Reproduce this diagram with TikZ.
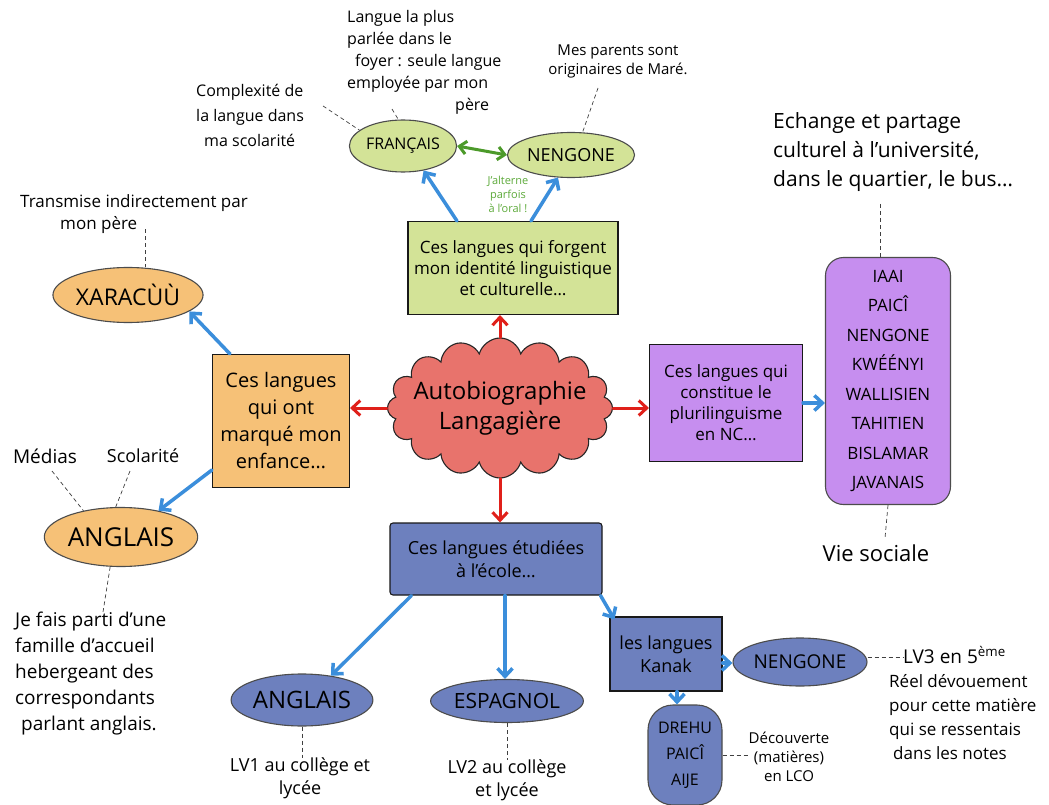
\documentclass[tikz,border=0pt]{standalone}
\usepackage{fontspec}
\setmainfont{Open Sans}
\usetikzlibrary{shapes.geometric,shapes.symbols,arrows.meta}
\definecolor{cvert}{HTML}{D3E397}
\definecolor{corange}{HTML}{F6C177}
\definecolor{crouge}{HTML}{E8736C}
\definecolor{cviolet}{HTML}{C68EEF}
\definecolor{cbleu}{HTML}{6D80BE}
\definecolor{ableu}{HTML}{3B8EDB}
\definecolor{arouge}{HTML}{E0201A}
\definecolor{avert}{HTML}{4C9A2A}
\definecolor{tvert}{HTML}{5DAA3A}
\tikzset{
  fs/.style={font=\fontsize{#1}{\the\numexpr#1*5/4\relax}\selectfont},
  boxnode/.style={draw=black!90, line width=1.1pt, align=center, inner sep=3pt},
  oval/.style={ellipse, draw=black!70, line width=1.1pt, align=center, inner sep=1pt},
  bluearrow/.style={-{Straight Barb[length=8pt,width=15pt]}, line width=3.5pt, draw=ableu, line cap=round},
  redarrow/.style={-{Straight Barb[length=8pt,width=15pt]}, line width=3pt, draw=arouge, line cap=round},
  greenarrow/.style={{Straight Barb[length=7pt,width=13pt]}-{Straight Barb[length=7pt,width=13pt]}, line width=3pt, draw=avert},
  link/.style={dash pattern=on 4pt off 3pt, line width=0.7pt, draw=black!75},
  note/.style={align=left, inner sep=0pt}
}
\begin{document}
\begin{tikzpicture}[x=1pt,y=-1pt]
\useasboundingbox[fill=white] (0,0) rectangle (1049,805);

% central cloud
\node[cloud, cloud puffs=16, cloud ignores aspect, fill=crouge, draw=black!85, line width=1.1pt,
      minimum width=225pt, minimum height=140pt, inner sep=0pt]
      (cloud) at (500,408) {};
\node[align=center, fs=24, inner sep=0pt] (cloudtxt) at (cloud.center) {Autobiographie\\Langagière};

% green group
\node[boxnode, fill=cvert, minimum width=210pt, minimum height=93pt, fs=17]
      (gbox) at (513,268) {Ces langues qui forgent\\mon identité linguistique\\et culturelle…};
\node[oval, fill=cvert, minimum width=90pt, minimum height=52pt, fs=16] (fr) at (403,146) {FRANÇAIS};
\node[oval, fill=cvert, minimum width=112pt, minimum height=45pt, fs=18] (nen1) at (571,155) {NENGONE};
\node[align=center, text=tvert, fs=11, inner sep=0pt] (alt) at (508,194) {J'alterne\\parfois\\à l'oral !};
\node[note, font=\fontsize{16}{22}\selectfont, anchor=north west] (lg) at (347,10)
  {Langue la plus\\parlée dans le\\\hspace*{8pt}foyer : seule langue\\employée par mon\\\hspace*{108pt}père};
\node[note, font=\fontsize{16}{25}\selectfont, anchor=north west] (cx) at (196,84) {Complexité de\\la langue dans\\\hspace*{8pt}ma scolarité};
\node[align=center, fs=15, inner sep=0pt] (mp) at (618,61) {Mes parents sont\\originaires de Maré.};
\coordinate (lgtip) at (392,109);
\coordinate (cxtip) at (323,106);
\coordinate (mptip) at (598,88);

% orange group
\node[boxnode, fill=corange, minimum width=137pt, minimum height=133pt, font=\fontsize{20}{27}\selectfont]
      (obox) at (281,421) {Ces langues\\qui ont\\marqué mon\\enfance…};
\node[oval, fill=corange, minimum width=140pt, minimum height=55pt, fs=23] (xar) at (128,295) {XARACÙÙ};
\node[note, anchor=north west, font=\fontsize{17}{22}\selectfont] (tr) at (20,194) {Transmise indirectement par\\\hspace*{40pt}mon père};
\coordinate (trtip) at (145,229);
\node[oval, fill=corange, minimum width=125pt, minimum height=59pt, fs=26] (oang) at (121,537) {ANGLAIS};
\node[fs=19, inner sep=0pt] (med) at (45,456) {Médias};
\node[fs=18, inner sep=0pt] (sco) at (143,456) {Scolarité};
\node[note, anchor=north west, font=\fontsize{19}{26}\selectfont] (je) at (15,612)
  {Je fais parti d'une\\famille d'accueil\\hebergeant des\\correspondants\\\hspace*{6pt}parlant anglais.};
\coordinate (medtip) at (52,471);
\coordinate (scotip) at (130,471);
\coordinate (jetip) at (103,612);

% purple group
\node[boxnode, fill=cviolet, minimum width=153pt, minimum height=117pt, fs=17]
      (pbox) at (726,403) {Ces langues qui\\constitue le\\plurilinguisme\\en NC…};
\node[draw=black!70, line width=1.1pt, fill=cviolet, rounded corners=18pt,
      minimum width=125pt, minimum height=247pt, align=center, inner sep=0pt,
      font=\fontsize{17}{29.5}\selectfont] (list) at (888,381)
      {IAAI\\PAICÎ\\NENGONE\\KWÉÉNYI\\WALLISIEN\\TAHITIEN\\BISLAMAR\\JAVANAIS};
\node[note, anchor=north west, font=\fontsize{21}{29}\selectfont] (ech) at (773,112)
  {Echange et partage\\culturel à l'université,\\dans le quartier, le bus…};
\coordinate (echtip) at (880,204);
\node[fs=22, inner sep=0pt] (vie) at (876,553) {Vie sociale};
\coordinate (vietip) at (885,538);

% blue group
\node[boxnode, fill=cbleu, minimum width=212pt, minimum height=72pt, fs=18, rounded corners=3pt]
      (bbox) at (496,559) {Ces langues étudiées\\à l'école…};
\node[oval, fill=cbleu, minimum width=120pt, minimum height=52pt, fs=24] (bang) at (302,700) {ANGLAIS};
\node[oval, fill=cbleu, minimum width=130pt, minimum height=43pt, fs=21] (esp) at (507,701) {ESPAGNOL};
\node[boxnode, fill=cbleu, minimum width=112pt, minimum height=74pt, fs=18] (kanak) at (666,654) {les langues\\Kanak};
\node[oval, fill=cbleu, minimum width=122pt, minimum height=48pt, fs=19] (nen2) at (800,662) {NENGONE};
\node[draw=black!70, line width=1.1pt, fill=cbleu, rounded corners=25pt, minimum width=74pt,
      minimum height=100pt, align=center, inner sep=0pt, font=\fontsize{16}{26}\selectfont]
      (drehu) at (685,755) {DREHU\\PAICÎ\\AIJE};
\node[align=center, fs=15, inner sep=0pt] (dec) at (789,757) {Découverte\\(matières)\\en LCO};
\node[fs=19, inner sep=0pt, anchor=west] (lv3) at (903,655) {LV3 en 5\textsuperscript{ème}};
\node[note, anchor=north west, font=\fontsize{17}{24}\selectfont] (reel) at (889,674)
  {Réel dévouement\\pour cette matière\\qui se ressentais\\\hspace*{4pt}dans les notes};
\node[align=center, fs=18, inner sep=0pt, anchor=north] (lv1) at (300,758) {LV1 au collège et\\lycée};
\node[align=center, fs=18, inner sep=0pt, anchor=north] (lv2) at (507,760) {LV2 au collège\\et lycée};

% red arrows from cloud
\draw[redarrow] (cloud.north) -- (cloud.north |- gbox.south);
\draw[redarrow] (cloud.west) -- (cloud.west -| obox.east);
\draw[redarrow] (cloud.east) -- (cloud.east -| pbox.west);
\draw[redarrow] (cloud.south) -- (cloud.south |- bbox.north);

% blue arrows
\draw[bluearrow] ([xshift=-56pt]gbox.north) -- (fr.-50);
\draw[bluearrow] ([xshift=18pt]gbox.north) -- (nen1.-120);
\draw[greenarrow] (fr.east) -- (nen1.west);
\draw[bluearrow] ([xshift=-51pt]obox.north) -- (xar.-15);
\draw[bluearrow] ([yshift=-49pt]obox.west) -- (oang.35);
\draw[bluearrow] (pbox.east) -- (pbox.east -| list.west);
\draw[bluearrow] ([xshift=22pt]bbox.south west) -- (bang.40);
\draw[bluearrow] ([xshift=9pt]bbox.south) -- ([xshift=9pt]bbox.south |- esp.north);
\draw[bluearrow] ([xshift=-2pt]bbox.south east) -- ([xshift=5pt,yshift=-3pt]kanak.north west);
\draw[bluearrow] ([yshift=-9pt]kanak.east) -- ([yshift=-9pt]kanak.east -| nen2.west);
\draw[bluearrow] ([xshift=11pt]kanak.south) -- ([xshift=11pt]kanak.south |- drehu.north);

% annotation links
\draw[link] (lgtip) -- (fr.100);
\draw[link] (cxtip) -- (fr.160);
\draw[link] (mptip) -- (nen1.63);
\draw[link] (trtip) -- (trtip |- xar.north);
\draw[link] (medtip) -- (oang.145);
\draw[link] (scotip) -- (oang.100);
\draw[link] (oang.250) -- (jetip);
\draw[link] (echtip) -- (echtip |- list.north);
\draw[link] (list.south) -- (vietip);
\draw[link] (drehu.east) -- (drehu.east -| dec.west);
\draw[link] ([yshift=5pt]nen2.east) -- ([yshift=5pt]nen2.east -| lv3.west);
\draw[link] (bang.south) -- (bang.south |- lv1.north);
\draw[link] (esp.south) -- (esp.south |- lv2.north);
\end{tikzpicture}
\end{document}
